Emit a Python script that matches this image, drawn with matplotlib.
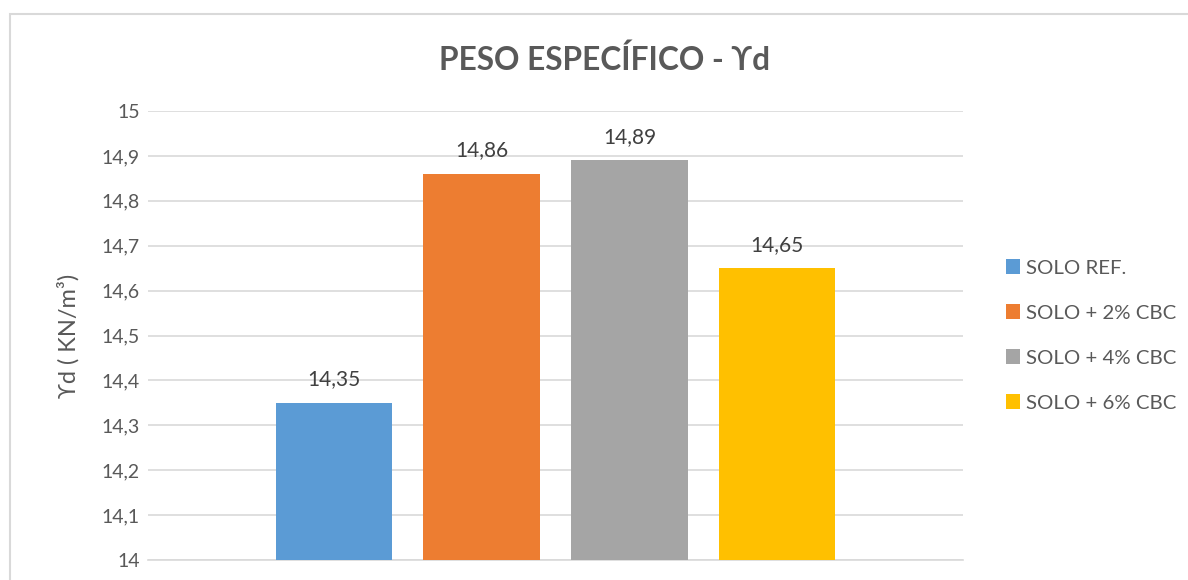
import matplotlib.pyplot as plt
from matplotlib.patches import Rectangle

plt.rcParams['font.family'] = ['Lato', 'DejaVu Sans']

series = ['SOLO REF.', 'SOLO + 2% CBC', 'SOLO + 4% CBC', 'SOLO + 6% CBC']
values = [14.35, 14.86, 14.89, 14.65]
colors = ['#5B9BD5', '#ED7D31', '#A5A5A5', '#FFC000']
yticks = [14, 14.1, 14.2, 14.3, 14.4, 14.5, 14.6, 14.7, 14.8, 14.9, 15]

fig = plt.figure(figsize=(11.88, 5.8), dpi=100)
ax = fig.add_axes([0.1246, 0.0345, 0.686, 0.774])

# chart frame
fig.patches.append(Rectangle((10 / 1188, -0.1), 1.2, 1.1 - 14 / 580,
                             transform=fig.transFigure, fill=False,
                             edgecolor='#D9D9D9', linewidth=1.5, zorder=0))

for i, (name, v, c) in enumerate(zip(series, values, colors)):
    ax.bar(i, v - 14, bottom=14, width=0.79, color=c, label=name, zorder=3)
    ax.text(i, v + 0.03, f'{v:.2f}'.replace('.', ','), ha='center',
            va='bottom', fontsize=15, color='#404040')

ax.set_xlim(-1.26, 4.26)
ax.set_ylim(14, 15)
ax.set_yticks(yticks)
ax.set_yticklabels([f'{t:g}'.replace('.', ',') for t in yticks],
                   fontsize=14, color='#595959')
ax.set_xticks([])
ax.tick_params(axis='y', length=0, pad=6)
ax.grid(axis='y', color='#D9D9D9', linewidth=1.2, zorder=0)
for s in ['top', 'right', 'left']:
    ax.spines[s].set_visible(False)
ax.spines['bottom'].set_color('#D9D9D9')
ax.spines['bottom'].set_linewidth(1.2)

ax.set_ylabel('ϒd ( KN/m³)', fontsize=17, color='#595959', labelpad=16)

fig.text(0.509, 0.897, 'PESO ESPECÍFICO - ϒd', ha='center', va='center',
         fontsize=22.8, fontweight='bold', color='#595959')

leg = ax.legend(loc='center left', bbox_to_anchor=(1.03, 0.5), frameon=False,
                fontsize=14.7, handlelength=0.7, handleheight=0.7,
                handletextpad=0.3, labelspacing=1.36)
for t in leg.get_texts():
    t.set_color('#595959')

fig.savefig('out.png', dpi=100)
